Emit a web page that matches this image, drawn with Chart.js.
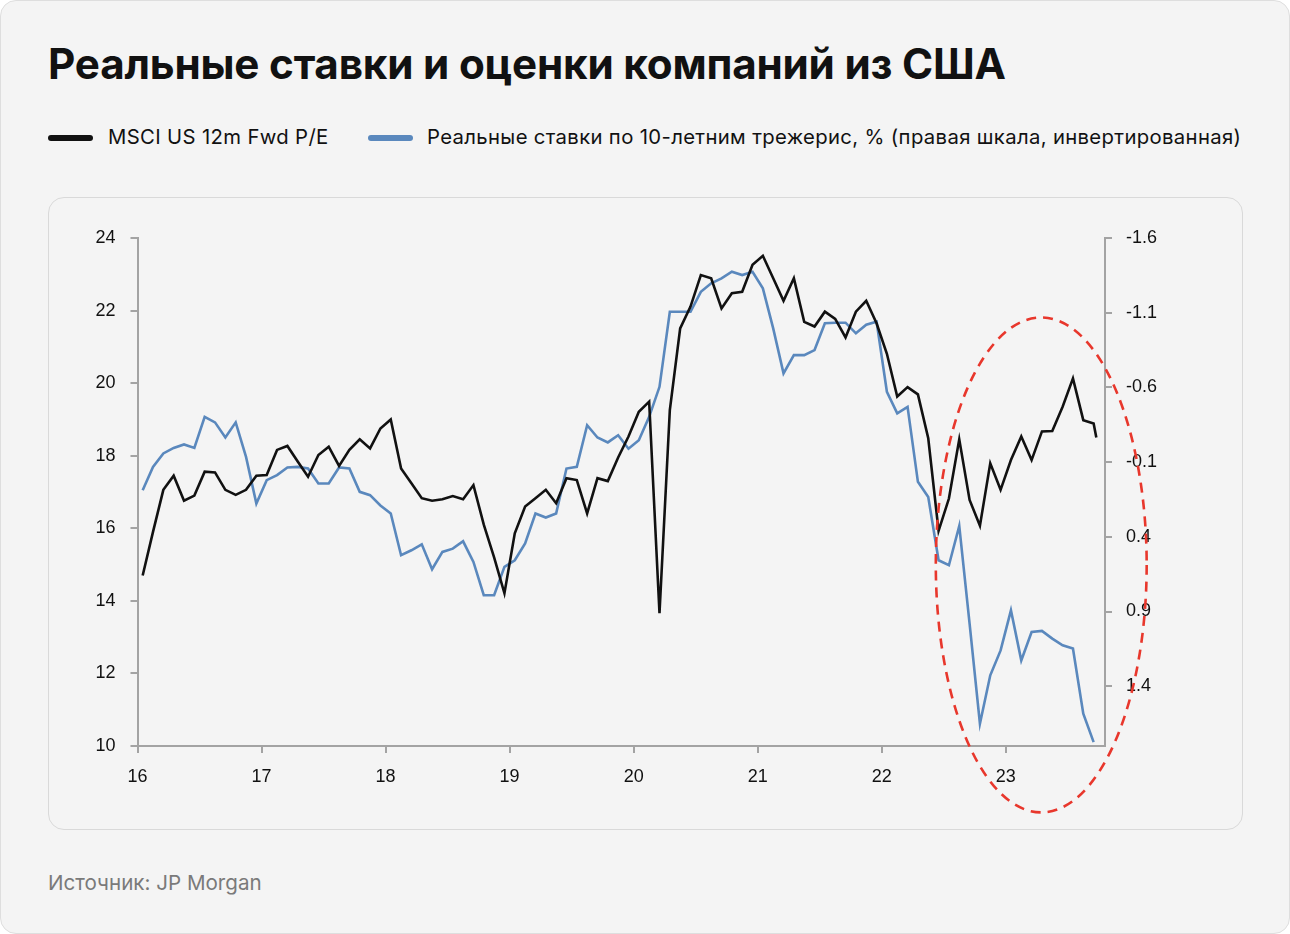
<!DOCTYPE html>
<html lang="ru">
<head>
<meta charset="utf-8">
<script src="https://cdn.jsdelivr.net/npm/chart.js@4.4.1/dist/chart.umd.min.js"></script>
<style>
  html, body { margin: 0; padding: 0; background: #ffffff; }
  .frame {
    position: absolute; left: 0; top: 0; width: 1288px; height: 932px;
    background: #f4f4f4; border: 1px solid #dedede; border-radius: 16px;
    font-family: Inter, "Noto Sans", sans-serif; color: #111;
  }
  h1 {
    position: absolute; left: 47px; top: 37px; margin: 0;
    font-size: 42.2px; font-weight: 700; letter-spacing: -0.2px;
  }
  .legend { position: absolute; left: 47px; top: 123px; font-size: 20.3px; letter-spacing: 0.35px; }
  .legend i {
    position: absolute; top: 11px; width: 45px; height: 6px; border-radius: 3px;
  }
  .legend b { position: absolute; font-weight: 400; white-space: nowrap; top: 0; }
  .card {
    position: absolute; left: 47px; top: 196px; width: 1193px; height: 631px;
    border: 1px solid #d9d9d9; border-radius: 16px; background: #f4f4f4;
  }
  .card canvas { position: absolute; left: 0; top: 0; }
  .source { position: absolute; left: 47px; top: 869px; font-size: 20.6px; color: #7a7a7a; }
</style>
</head>
<body>
<div class="frame">
  <h1>Реальные ставки и оценки компаний из США</h1>
  <div class="legend">
    <i style="left:0; background:#111;"></i>
    <b style="left:60px;">MSCI US 12m Fwd P/E</b>
    <i style="left:320px; background:#5a88bd;"></i>
    <b style="left:379px;">Реальные ставки по 10-летним трежерис, % (правая шкала, инвертированная)</b>
  </div>
  <div class="card">
    <canvas id="chart" width="1191" height="629"></canvas>
  </div>
  <div class="source">Источник: JP Morgan</div>
</div>
<script>
// MSCI US 12m Fwd P/E, monthly from Jan 2016
const peValues = [14.7, 15.9, 17.06, 17.45, 16.76, 16.9, 17.56, 17.54, 17.06, 16.92,
  17.06, 17.45, 17.47, 18.16, 18.27, 17.84, 17.42, 18.02, 18.25, 17.72,
  18.16, 18.45, 18.2, 18.75, 19.0, 17.65, 17.24, 16.83, 16.76, 16.8,
  16.89, 16.8, 17.19, 16.1, 15.2, 14.21, 15.86, 16.6, 16.83, 17.06,
  16.69, 17.38, 17.33, 16.41, 17.38, 17.3, 17.95, 18.53, 19.21, 19.49,
  13.66, 19.26, 21.51, 22.11, 22.98, 22.89, 22.06, 22.48, 22.52, 23.26,
  23.51, 22.89, 22.27, 22.89, 21.69, 21.56, 21.97, 21.77, 21.26, 21.97,
  22.27, 21.65, 20.81, 19.63, 19.89, 19.69, 18.48, 15.93, 16.82, 18.45,
  16.78, 16.07, 17.79, 17.06, 17.88, 18.53, 17.88, 18.67, 18.68, 19.35,
  20.13, 18.98, 18.89];
// last partial-month reading
const peLatest = { x: 23.73, y: 18.5 };

// Real 10y Treasury yield, %, monthly from Jan 2016 (right axis, inverted)
const realRates = [0.088, -0.068, -0.158, -0.195, -0.218, -0.195, -0.403, -0.366, -0.265, -0.366,
  -0.135, 0.177, 0.021, -0.013, -0.064, -0.068, -0.057, 0.043, 0.043, -0.064,
  -0.057, 0.099, 0.121, 0.19, 0.244, 0.523, 0.49, 0.45, 0.617, 0.501,
  0.479, 0.43, 0.568, 0.791, 0.791, 0.601, 0.557, 0.445, 0.244, 0.271,
  0.244, -0.057, -0.068, -0.347, -0.265, -0.232, -0.28, -0.19, -0.247, -0.403,
  -0.604, -1.106, -1.106, -1.106, -1.24, -1.297, -1.33, -1.374, -1.352, -1.374,
  -1.263, -0.995, -0.694, -0.816, -0.816, -0.85, -1.029, -1.033, -1.033, -0.962,
  -1.02, -1.04, -0.571, -0.426, -0.47, 0.032, 0.133, 0.557, 0.59, 0.327,
  0.981, 1.651, 1.327, 1.16, 0.892, 1.227, 1.037, 1.03, 1.081, 1.126,
  1.148, 1.584, 1.774];

const yearTicks = [16, 17, 18, 19, 20, 21, 22, 23];
const leftTicks = [10, 12, 14, 16, 18, 20, 22, 24];
const rightTicks = [-1.6, -1.1, -0.6, -0.1, 0.4, 0.9, 1.4];

// month i sits in the middle of its month on a year axis
const monthX = i => 16 + (i + 0.5) / 12;

const pePoints = peValues.map((v, i) => ({ x: monthX(i), y: v }));
pePoints.push(peLatest);
const ratePoints = realRates.map((v, i) => ({ x: monthX(i), y: v }));

const axisColor = '#a3a3a3';
const tickFont = { family: '"Liberation Sans", Arial, sans-serif', size: 18 };

// red dashed ellipse around 2022-2023
const ellipsePlugin = {
  id: 'ellipse',
  afterDatasetsDraw(chart) {
    const { ctx } = chart;
    const xs = chart.scales.x, ys = chart.scales.y;
    const cx = xs.getPixelForValue(23.286);
    const cy = ys.getPixelForValue(14.99);
    const rx = xs.getPixelForValue(23.286 + 0.85) - cx;
    const ry = ys.getPixelForValue(14.99) - ys.getPixelForValue(14.99 + 6.82);
    ctx.save();
    ctx.strokeStyle = '#e8372c';
    ctx.lineWidth = 2.6;
    ctx.setLineDash([10, 7]);
    ctx.beginPath();
    ctx.ellipse(cx, cy, rx, ry, 0, 0, Math.PI * 2);
    ctx.stroke();
    ctx.restore();
  }
};

const ctx = document.getElementById('chart').getContext('2d');
new Chart(ctx, {
  type: 'line',
  data: {
    datasets: [
      {
        label: 'MSCI US 12m Fwd P/E',
        data: pePoints,
        borderColor: '#111111',
        borderWidth: 2.6,
        pointRadius: 0,
        tension: 0,
        yAxisID: 'y'
      },
      {
        label: 'Реальные ставки по 10-летним трежерис, % (правая шкала, инвертированная)',
        data: ratePoints,
        borderColor: '#5a88bd',
        borderWidth: 2.6,
        pointRadius: 0,
        tension: 0,
        yAxisID: 'y2'
      }
    ]
  },
  options: {
    responsive: false,
    animation: false,
    layout: { padding: { top: 40, left: 0, right: 0, bottom: 0 } },
    plugins: { legend: { display: false }, tooltip: { enabled: false } },
    scales: {
      x: {
        type: 'linear',
        min: 16,
        max: 23.8,
        afterBuildTicks: s => { s.ticks = yearTicks.map(v => ({ value: v })); },
        afterFit: s => { s.height = 81; },
        border: { color: axisColor, width: 2 },
        grid: { drawOnChartArea: false, color: axisColor, lineWidth: 2, tickLength: 7 },
        ticks: { color: '#111', font: tickFont, padding: 13, callback: v => String(v) }
      },
      y: {
        position: 'left',
        min: 10,
        max: 24,
        afterBuildTicks: s => { s.ticks = leftTicks.map(v => ({ value: v })); },
        afterFit: s => { s.width = 88.5; },
        border: { color: axisColor, width: 2 },
        grid: { drawOnChartArea: false, color: axisColor, lineWidth: 2, tickLength: 7 },
        ticks: { color: '#111', font: tickFont, padding: 15 }
      },
      y2: {
        position: 'right',
        reverse: true,
        min: -1.6,
        max: 1.8,
        afterBuildTicks: s => { s.ticks = rightTicks.map(v => ({ value: v })); },
        afterFit: s => { s.width = 135; },
        border: { color: axisColor, width: 2 },
        grid: { drawOnChartArea: false, color: axisColor, lineWidth: 2, tickLength: 7 },
        ticks: { color: '#111', font: tickFont, padding: 14, callback: v => v.toFixed(1) }
      }
    }
  },
  plugins: [ellipsePlugin]
});
</script>
</body>
</html>
